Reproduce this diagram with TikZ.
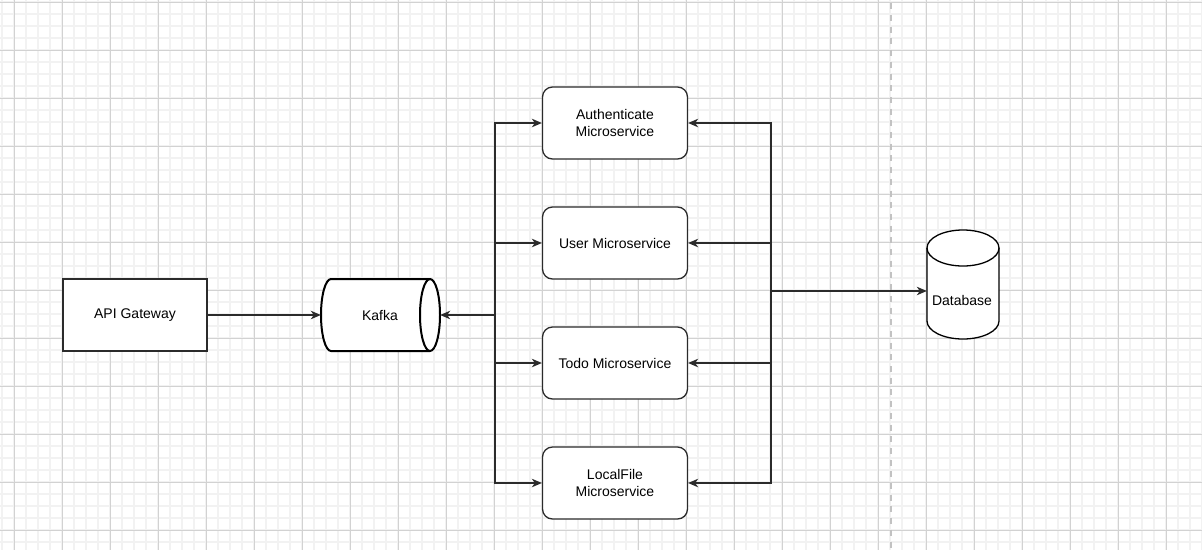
\documentclass[tikz,border=0pt]{standalone}
\usepackage{fontspec}
\setmainfont{Liberation Sans}
\usetikzlibrary{arrows.meta}
\definecolor{ink}{HTML}{2B2B2B}
\definecolor{gridmajor}{HTML}{D2D2D2}
\definecolor{gridminor}{HTML}{F2F2F2}
\definecolor{sepline}{HTML}{C2C2C2}
\tikzset{
  arr/.style={draw=ink, line width=1.3pt, -{Stealth[length=10pt,width=8.5pt,inset=3pt]}},
  rarr/.style={draw=ink, line width=1.3pt, {Stealth[length=10pt,width=8.5pt,inset=3pt]}-},
  line/.style={draw=ink, line width=1.3pt},
  msbox/.style={draw=ink, line width=1.3pt, rounded corners=10pt, fill=white,
    minimum width=145pt, minimum height=72pt, align=center, inner sep=0pt,
    font=\fontsize{14}{17.5}\selectfont},
  plainbox/.style={draw=ink, line width=1.3pt, fill=white,
    minimum width=144pt, minimum height=72pt, align=center, inner sep=0pt,
    font=\fontsize{14}{17.5}\selectfont},
  label/.style={inner sep=0pt, align=center, font=\fontsize{14}{17.5}\selectfont}
}
\begin{document}
\begin{tikzpicture}[x=1pt,y=-1pt]
\useasboundingbox (0,0) rectangle (1202,550);
\fill[white] (0,0) rectangle (1202,550);
% grid
\foreach \gx in {2,14,...,1202} \draw[gridminor, line width=1.2pt] (\gx,0) -- (\gx,550);
\foreach \gy in {2,14,...,550} \draw[gridminor, line width=1.2pt] (0,\gy) -- (1202,\gy);
\foreach \gx in {14,62,...,1202} \draw[gridmajor, line width=1pt] (\gx,0) -- (\gx,550);
\foreach \gy in {2,50,...,550} \draw[gridmajor, line width=1pt] (0,\gy) -- (1202,\gy);
% separator
\draw[sepline, line width=2pt, dash pattern=on 6pt off 5.7pt, dash phase=8.4pt] (891,0) -- (891,550);

% nodes
\node[plainbox] (api) at (135,315) {API Gateway};
\node[msbox] (auth) at (615,123) {Authenticate\\Microservice};
\node[msbox] (user) at (615,243) {User Microservice};
\node[msbox] (todo) at (615,363) {Todo Microservice};
\node[msbox] (local) at (615,483) {LocalFile\\Microservice};

% Kafka cylinder (horizontal)
\node[inner sep=0pt, minimum width=119pt, minimum height=72pt] (kafka) at (380.5,315) {};
\filldraw[fill=white, draw=black, line width=2pt]
  (331,279) -- (430,279) arc[start angle=90, end angle=-90, x radius=10pt, y radius=36pt]
  -- (331,351) arc[start angle=270, end angle=90, x radius=10pt, y radius=36pt] -- cycle;
\draw[black, line width=2pt] (430,279) arc[start angle=90, end angle=270, x radius=10pt, y radius=36pt];
\node[label] (kafkalabel) at (380,315) {Kafka};

% Database cylinder (vertical)
\node[inner sep=0pt, minimum width=72pt, minimum height=109pt] (db) at (963,284.5) {};
\filldraw[fill=white, draw=black, line width=1.3pt]
  (927,248) -- (927,321) arc[start angle=180, end angle=360, x radius=36pt, y radius=18pt]
  -- (999,248) arc[start angle=0, end angle=180, x radius=36pt, y radius=18pt] -- cycle;
\draw[black, line width=1.3pt] (927,248) arc[start angle=180, end angle=360, x radius=36pt, y radius=18pt];
\node[label] (dblabel) at (962,300.5) {Database};

% connectors
\coordinate (busL) at (495,315);
\coordinate (busR) at (771,291);
\draw[arr] (api.east) -- (kafka.west);
\draw[rarr] (kafka.east) -- (busL);
\draw[arr] (busL) |- (auth.west);
\draw[arr] (busL) |- (user.west);
\draw[arr] (busL) |- (todo.west);
\draw[arr] (busL) |- (local.west);
\draw[arr] (busR) |- (auth.east);
\draw[arr] (busR) |- (user.east);
\draw[arr] (busR) |- (todo.east);
\draw[arr] (busR) |- (local.east);
\draw[arr] (busR) -- (busR -| db.west);
\end{tikzpicture}
\end{document}
